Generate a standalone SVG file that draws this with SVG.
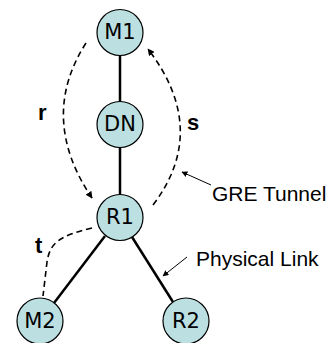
<svg xmlns="http://www.w3.org/2000/svg" width="335" height="343" viewBox="0 0 335 343">
<style>
.node circle{fill:#bce0e2;stroke:#000;stroke-width:1.2}
.node text{font-family:"DejaVu Sans",sans-serif;font-size:21px;text-anchor:middle;fill:#000}
.link{stroke:#000;stroke-width:2.5;fill:none}
.tun{stroke:#000;stroke-width:1.6;fill:none;stroke-dasharray:6 4}
.ptr{stroke:#000;stroke-width:1;fill:none}
.lbl{font-family:"Liberation Sans",Arial,sans-serif;font-size:21px;fill:#000}
.b{font-family:"Liberation Sans",Arial,sans-serif;font-size:22px;font-weight:bold;fill:#000}
</style>
<defs>
<marker id="ah" viewBox="0 0 10 10" refX="9" refY="5" markerWidth="7" markerHeight="7" markerUnits="userSpaceOnUse" orient="auto">
<path d="M0,0 L10,5 L0,10 z" fill="#000"/>
</marker>
<marker id="ah2" viewBox="0 0 10 10" refX="9" refY="5" markerWidth="6" markerHeight="6" markerUnits="userSpaceOnUse" orient="auto">
<path d="M0,0 L10,5 L0,10 z" fill="#000"/>
</marker>
</defs>
<g id="connectors">
<line class="link" x1="120" y1="55" x2="120" y2="102"/>
<line class="link" x1="120" y1="147" x2="120" y2="195"/>
<line class="link" x1="105" y1="236" x2="54" y2="303"/>
<line class="link" x1="132" y1="237" x2="173" y2="302"/>
<path class="tun" d="M86,43 Q38,118 92,198" marker-end="url(#ah)"/>
<path class="tun" d="M153,205 Q210,130 148,49" marker-end="url(#ah)"/>
<path class="tun" d="M92,228 C60,236 50,242 47,262 L43,296"/>
<line class="ptr" x1="211" y1="185" x2="182" y2="172" marker-end="url(#ah2)"/>
<line class="ptr" x1="187" y1="257" x2="163" y2="276" marker-end="url(#ah2)"/>
</g>
<g id="M1" class="node"><circle cx="120" cy="32.5" r="23"/><text x="120" y="39">M1</text></g>
<g id="DN" class="node"><circle cx="120" cy="124.5" r="23"/><text x="120" y="131">DN</text></g>
<g id="R1" class="node"><circle cx="120" cy="217.5" r="23"/><text x="120" y="224">R1</text></g>
<g id="M2" class="node"><circle cx="40" cy="321" r="23"/><text x="40" y="328">M2</text></g>
<g id="R2" class="node"><circle cx="186" cy="321" r="23"/><text x="186" y="328">R2</text></g>
<g id="labels">
<text class="b" x="38" y="120">r</text>
<text class="b" x="187" y="130">s</text>
<text class="b" x="35" y="253">t</text>
<text class="lbl" x="212" y="201">GRE Tunnel</text>
<text class="lbl" x="196" y="266">Physical Link</text>
</g>
</svg>
